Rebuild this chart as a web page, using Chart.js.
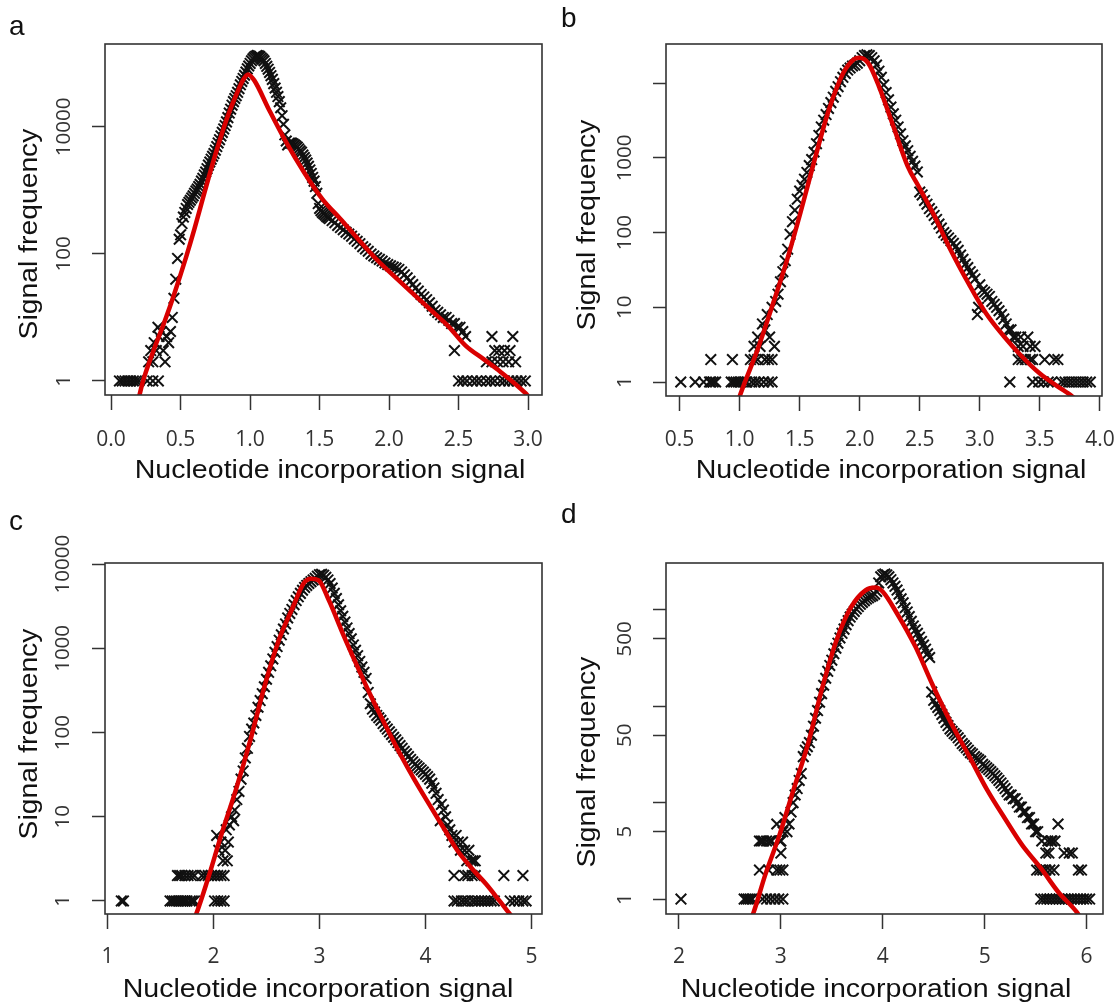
<!DOCTYPE html>
<html>
<head>
<meta charset="utf-8">
<script src="https://cdn.jsdelivr.net/npm/chart.js@4.4.1/dist/chart.umd.min.js"></script>
<style>
  html, body { margin: 0; padding: 0; background: #fff; }
  #wrap { position: relative; width: 1118px; height: 1006px; overflow: hidden; }
  canvas { position: absolute; }
</style>
</head>
<body>
<div id="wrap">
  <canvas id="panelA" width="558" height="500" style="left:0;top:0"></canvas>
  <canvas id="panelB" width="560" height="500" style="left:558px;top:0"></canvas>
  <canvas id="panelC" width="558" height="506" style="left:0;top:500px"></canvas>
  <canvas id="panelD" width="560" height="506" style="left:558px;top:500px"></canvas>
</div>
<script>
const X_TITLE = 'Nucleotide incorporation signal';
const Y_TITLE = 'Signal frequency';

// ---- panel a : [signal, frequency] ----
const aSignal = [
  [0.06,1],[0.08,1],[0.10,1],[0.12,1],[0.14,1],[0.16,1],[0.18,1],[0.20,1],[0.26,1],[0.30,1],[0.34,1],
  [0.27,2],[0.285,3],[0.30,2],[0.31,4],[0.325,3],[0.337,7],[0.345,5],[0.362,6],[0.375,3],[0.388,2],
  [0.40,5],[0.414,4],[0.427,6],[0.44,10],[0.452,20],[0.465,40],[0.478,85],[0.49,170],
  [0.50,200],[0.51,300],[0.52,380],[0.53,450],[0.54,520],[0.55,600],[0.56,650],[0.57,700],[0.58,760],
  [0.59,820],[0.60,900],[0.61,980],[0.62,1050],[0.63,1150],[0.64,1250],[0.65,1400],[0.66,1550],
  [0.67,1750],[0.68,1950],[0.69,2200],[0.70,2500],[0.71,2800],[0.72,3100],[0.73,3450],[0.74,3800],
  [0.75,4300],[0.76,4900],[0.77,5600],[0.78,6300],[0.79,7200],[0.80,8200],[0.81,9300],[0.82,10500],
  [0.83,12000],[0.84,14000],[0.85,16500],[0.86,19000],[0.87,22000],[0.88,25000],[0.89,28000],
  [0.90,31000],[0.91,35000],[0.92,40000],[0.93,46000],[0.94,52000],[0.95,58000],[0.96,65000],
  [0.97,73000],[0.98,82000],[0.99,91000],[1.00,100000],[1.01,110000],[1.02,118000],[1.03,125000],
  [1.04,130000],[1.05,133000],[1.06,132000],[1.07,128000],[1.08,122000],[1.09,116000],[1.10,110000],
  [1.11,100000],[1.12,90000],[1.13,81000],[1.14,72000],[1.15,64000],[1.16,56000],[1.17,48000],
  [1.18,41000],[1.19,35000],[1.20,30000],[1.21,25000],[1.22,20000],[1.23,15000],[1.24,11000],
  [1.25,7500],[1.26,6000],[1.27,5200],[1.28,5500],[1.29,5600],[1.30,5500],[1.31,5400],[1.32,5200],
  [1.33,5000],[1.34,4800],[1.35,4500],[1.36,4200],[1.37,4000],[1.38,3600],[1.39,3300],[1.40,3000],
  [1.41,2700],[1.42,2400],[1.43,2100],[1.44,1850],[1.45,1600],[1.46,1400],[1.47,1150],[1.48,900],
  [1.49,620],[1.50,520],[1.51,480],[1.52,450],[1.53,430],[1.54,410],[1.55,390],[1.56,375],[1.57,360],
  [1.59,335],[1.61,310],[1.63,280],[1.65,260],[1.67,240],[1.69,220],[1.71,205],[1.73,190],[1.75,172],
  [1.77,158],[1.79,145],[1.81,130],[1.83,120],[1.85,110],[1.87,100],[1.89,93],[1.91,87],[1.93,82],
  [1.95,77],[1.97,72],[1.99,68],[2.01,65],[2.03,62],[2.05,60],[2.07,57],[2.09,52],[2.11,47],[2.13,42],
  [2.15,37],[2.17,33],[2.19,29],[2.21,26],[2.23,23],[2.25,21],[2.27,19],[2.29,17],[2.31,15],[2.33,13],
  [2.35,12],[2.37,11],[2.39,10],[2.41,10],[2.43,9],[2.45,8],[2.47,8],[2.49,7],[2.51,7],[2.53,6],[2.55,5],
  [2.47,3],[2.50,1],[2.53,1],[2.56,1],[2.60,1],[2.63,1],[2.66,1],[2.70,1],[2.73,1],[2.76,1],[2.80,1],
  [2.83,1],[2.86,1],[2.89,1],[2.92,1],[2.95,1],[2.98,1],
  [2.70,2],[2.74,2],[2.78,2],[2.82,2],[2.86,2],[2.91,2],[2.76,3],[2.79,3],[2.83,3],[2.87,3],
  [2.74,5],[2.89,5]
];
const aFit = [
  [0.19,0.45],[0.20,0.55],[0.23,1],[0.30,2.8],[0.388,9],[0.45,22],[0.54,90],[0.60,250],[0.66,750],
  [0.72,2200],[0.78,6000],[0.84,15000],[0.90,32000],[0.95,55000],[0.985,67000],[1.03,54000],
  [1.134,19000],[1.26,5700],[1.39,1900],[1.52,730],[1.65,355],[1.776,172],[1.905,84],[2.03,46],
  [2.16,25],[2.29,13.7],[2.42,7.5],[2.55,3.6],[2.68,2.2],[2.80,1.4],[2.985,0.63],[3.0,0.58]
];
const aXTicks = [0, 0.5, 1, 1.5, 2, 2.5, 3];
const aXLabels = ['0.0', '0.5', '1.0', '1.5', '2.0', '2.5', '3.0'];
const aYTicks = [1, 100, 10000];
const aYLabels = ['1', '100', '10000'];

// ---- panel b ----
const bSignal = [
  [0.51,1],[0.63,1],[0.70,1],[0.75,1],[0.76,1],[0.78,1],[0.80,1],[0.93,1],[0.95,1],[0.97,1],[0.99,1],
  [1.01,1],[1.04,1],[1.06,1],[1.10,1],[1.13,1],[1.16,1],[1.20,1],[1.24,1],[1.27,1],
  [0.76,2],[0.94,2],[1.09,2],[1.12,2],[1.15,2],[1.21,2],[1.24,2],[1.27,2],
  [1.12,3],[1.15,4],[1.17,3],[1.19,6],[1.21,5],[1.23,8],[1.25,4],[1.27,10],[1.29,3],[1.30,12],
  [1.32,15],[1.34,22],[1.36,30],[1.38,42],[1.40,60],[1.42,95],[1.44,140],[1.46,200],[1.48,280],
  [1.50,360],[1.52,430],[1.54,520],[1.56,640],[1.58,790],[1.60,950],[1.62,1200],[1.64,1550],
  [1.66,2000],[1.68,2600],[1.70,3200],[1.72,3800],[1.74,4600],[1.76,5500],[1.78,6500],[1.80,7800],
  [1.82,9000],[1.84,10500],[1.86,12000],[1.88,13500],[1.90,15000],[1.92,16000],[1.94,17000],
  [1.96,17500],[1.98,18500],[2.00,20000],[2.02,22000],[2.04,23500],[2.06,24000],[2.08,23500],
  [2.10,22000],[2.12,20000],[2.14,17500],[2.16,14500],[2.18,12000],[2.20,9500],[2.22,7500],
  [2.24,6000],[2.26,4800],[2.28,3900],[2.30,3200],[2.32,2600],[2.34,2100],[2.36,1700],[2.38,1450],
  [2.40,1250],[2.42,1050],[2.44,900],[2.46,780],[2.48,650],[2.50,350],[2.52,320],[2.54,270],
  [2.56,240],[2.58,210],[2.60,190],[2.62,170],[2.64,150],[2.66,130],[2.68,115],[2.70,100],[2.72,92],
  [2.74,85],[2.76,78],[2.78,72],[2.80,65],[2.82,58],[2.84,50],[2.86,44],[2.88,38],[2.90,34],[2.92,30],
  [2.94,27],[2.96,24],[2.98,8],[2.99,10],[3.00,20],[3.02,17],[3.04,16],[3.06,15],[3.08,14],[3.10,12],
  [3.12,11],[3.14,10],[3.16,9],[3.18,8],[3.20,7],[3.22,6],[3.24,5],[3.26,5],[3.28,4],[3.30,4],[3.32,3],
  [3.34,4],[3.36,3],[3.40,4],[3.42,3],[3.46,3],
  [3.32,2],[3.35,2],[3.38,2],[3.42,2],[3.44,2],[3.54,2],[3.62,2],[3.65,2],
  [3.25,1],[3.44,1],[3.49,1],[3.53,1],[3.57,1],[3.60,1],[3.68,1],[3.71,1],[3.74,1],[3.77,1],[3.80,1],
  [3.83,1],[3.86,1],[3.89,1],[3.92,1]
];
const bFit = [
  [0.98,0.5],[1.0,0.64],[1.149,2.7],[1.268,10],[1.387,39],[1.506,183],[1.625,950],[1.744,4450],
  [1.863,13700],[1.952,21000],[1.997,22000],[2.07,18700],[2.16,9100],[2.28,2650],[2.40,770],
  [2.49,417],[2.61,183],[2.756,59],[2.905,21],[3.05,8.4],[3.20,4.1],[3.35,2.2],[3.5,1.3],
  [3.65,0.87],[3.77,0.64],[3.80,0.58]
];
const bXTicks = [0.5, 1, 1.5, 2, 2.5, 3, 3.5, 4];
const bXLabels = ['0.5', '1.0', '1.5', '2.0', '2.5', '3.0', '3.5', '4.0'];
const bYTicks = [1, 10, 100, 1000, 10000];
const bYLabels = ['1', '10', '100', '1000', ''];

// ---- panel c ----
const cSignal = [
  [1.13,1],[1.15,1],[1.59,1],[1.61,1],[1.63,1],[1.65,1],[1.67,1],[1.69,1],[1.71,1],[1.73,1],[1.75,1],
  [1.78,1],[1.80,1],[1.82,1],[2.01,1],[2.04,1],[2.07,1],[2.10,1],
  [1.66,2],[1.68,2],[1.70,2],[1.73,2],[1.76,2],[1.79,2],[1.82,2],[1.89,2],[1.92,2],[1.95,2],[1.98,2],
  [2.01,2],[2.04,2],[2.07,2],[2.10,2],
  [2.03,6],[2.05,4],[2.07,5],[2.09,3],[2.11,4],[2.12,7],[2.13,3],[2.14,5],[2.15,8],[2.17,10],[2.19,9],
  [2.20,12],[2.22,16],[2.24,20],[2.26,28],[2.28,35],[2.30,50],[2.32,65],[2.34,90],[2.36,110],
  [2.38,130],[2.40,160],[2.42,200],[2.44,240],[2.46,290],[2.48,350],[2.50,430],[2.52,520],[2.54,620],
  [2.56,750],[2.58,900],[2.60,1050],[2.62,1250],[2.64,1450],[2.66,1700],[2.68,1950],[2.70,2300],
  [2.72,2600],[2.74,2900],[2.76,3300],[2.78,3700],[2.80,4100],[2.82,4500],[2.84,4900],[2.86,5300],
  [2.88,5600],[2.90,5900],[2.92,6200],[2.94,6500],[2.96,6800],[2.98,7200],[3.00,7500],[3.02,7600],
  [3.04,7400],[3.06,7000],[3.08,6500],[3.10,5900],[3.12,5200],[3.14,4500],[3.16,3900],[3.18,3300],
  [3.20,2800],[3.22,2400],[3.24,2050],[3.26,1750],[3.28,1500],[3.30,1300],[3.32,1100],[3.34,950],
  [3.36,820],[3.38,700],[3.40,600],[3.42,520],[3.44,440],[3.46,300],[3.48,220],[3.50,190],[3.52,175],
  [3.54,160],[3.56,150],[3.58,140],[3.60,128],[3.62,118],[3.64,110],[3.66,102],[3.68,95],[3.70,88],
  [3.72,82],[3.74,76],[3.76,70],[3.78,65],[3.80,60],[3.82,56],[3.84,52],[3.86,48],[3.88,45],[3.90,42],
  [3.92,40],[3.94,38],[3.96,36],[3.98,34],[4.00,32],[4.02,30],[4.04,28],[4.06,25],[4.08,22],[4.10,19],
  [4.12,16],[4.14,9],[4.15,14],[4.17,12],[4.19,10],[4.21,8],[4.23,7],[4.25,6],[4.27,5],[4.29,6],
  [4.31,5],[4.33,4],[4.35,5],[4.37,4],[4.39,3],[4.41,4],[4.43,3],[4.45,3],[4.47,3],
  [4.27,2],[4.37,2],[4.40,2],[4.44,2],[4.47,2],[4.74,2],[4.92,2],
  [4.27,1],[4.30,1],[4.34,1],[4.37,1],[4.40,1],[4.44,1],[4.47,1],[4.50,1],[4.53,1],[4.56,1],[4.59,1],
  [4.62,1],[4.65,1],[4.80,1],[4.84,1],[4.88,1],[4.92,1],[4.95,1]
];
const cFit = [
  [1.80,0.55],[1.835,0.69],[1.943,1.76],[2.077,6.3],[2.21,20.7],[2.347,81],[2.48,350],[2.616,1250],
  [2.75,3100],[2.85,5900],[2.92,6700],[2.99,6460],[3.09,3700],[3.22,1500],[3.36,600],[3.49,265],
  [3.63,117],[3.76,56],[3.90,27],[4.03,14.4],[4.165,7.6],[4.30,4],[4.43,2.5],[4.57,1.6],[4.70,1],
  [4.80,0.69],[4.84,0.6]
];
const cXTicks = [1, 2, 3, 4, 5];
const cXLabels = ['1', '2', '3', '4', '5'];
const cYTicks = [1, 10, 100, 1000, 10000];
const cYLabels = ['1', '10', '100', '1000', '10000'];

// ---- panel d ----
const dSignal = [
  [2.02,1],[2.64,1],[2.66,1],[2.68,1],[2.70,1],[2.72,1],[2.82,1],[2.86,1],[2.90,1],[2.94,1],[2.98,1],[3.02,1],
  [2.79,2],[2.88,2],[2.96,2],[2.99,2],[3.02,2],[3.00,3],
  [2.79,4],[2.81,4],[2.83,4],[2.86,4],[2.89,4],[2.91,4],[2.99,4],
  [2.96,6],[3.00,4],[3.02,5],[3.04,7],[3.06,5],[3.08,6],[3.10,8],[3.12,10],[3.14,12],[3.16,14],
  [3.18,17],[3.20,20],[3.22,30],[3.24,35],[3.26,38],[3.28,42],[3.30,50],[3.32,62],[3.34,75],[3.36,90],
  [3.38,110],[3.40,135],[3.42,165],[3.44,195],[3.46,230],[3.48,265],[3.50,300],[3.52,350],[3.54,400],
  [3.56,450],[3.58,510],[3.60,570],[3.62,630],[3.64,700],[3.66,770],[3.68,840],[3.70,900],[3.72,960],
  [3.74,1020],[3.76,1080],[3.78,1140],[3.80,1190],[3.82,1240],[3.84,1290],[3.86,1330],[3.88,1370],
  [3.90,1400],[3.92,1450],[3.94,1550],[3.96,1900],[3.98,2200],[4.00,2300],[4.02,2350],[4.04,2300],
  [4.06,2200],[4.08,2050],[4.10,1900],[4.12,1750],[4.14,1600],[4.16,1450],[4.18,1300],[4.20,1180],
  [4.22,1050],[4.24,950],[4.26,850],[4.28,760],[4.30,680],[4.32,620],[4.34,570],[4.36,520],[4.38,470],
  [4.40,430],[4.42,390],[4.44,350],[4.46,320],[4.48,140],[4.50,115],[4.52,105],[4.54,97],[4.56,90],
  [4.58,82],[4.60,75],[4.62,68],[4.64,63],[4.66,58],[4.68,55],[4.70,52],[4.72,50],[4.74,47],[4.76,44],
  [4.78,41],[4.80,39],[4.82,37],[4.84,35],[4.86,33],[4.88,32],[4.90,30],[4.92,29],[4.94,28],[4.96,27],
  [4.98,25],[5.00,24],[5.02,23],[5.04,22],[5.06,21],[5.08,20],[5.10,19],[5.12,18],[5.14,17],[5.16,16],
  [5.18,15],[5.20,14],[5.22,13],[5.24,12],[5.26,12],[5.28,11],[5.30,11],[5.32,10],[5.34,9],[5.36,9],
  [5.38,8],[5.40,8],[5.42,7],[5.44,7],[5.46,6],[5.48,6],[5.50,5],[5.52,5],[5.56,4],[5.60,3],[5.65,4],
  [5.72,6],[5.78,3],[5.62,4],[5.66,4],[5.69,4],[5.63,3],[5.83,3],[5.86,3],
  [5.51,2],[5.54,2],[5.57,2],[5.60,2],[5.64,2],[5.68,2],[5.92,2],[5.95,2],
  [5.55,1],[5.58,1],[5.61,1],[5.64,1],[5.67,1],[5.70,1],[5.73,1],[5.76,1],[5.79,1],[5.82,1],[5.85,1],
  [5.88,1],[5.91,1],[5.94,1],[5.97,1],[6.00,1],[6.03,1]
];
const dFit = [
  [2.70,0.6],[2.733,0.73],[2.846,1.77],[2.986,4.6],[3.126,13.8],[3.27,42],[3.41,161],[3.547,487],
  [3.69,1070],[3.83,1590],[3.93,1700],[4.0,1540],[4.14,915],[4.32,415],[4.495,161],[4.67,67],
  [4.85,30],[5.02,13.8],[5.2,6.8],[5.37,3.6],[5.55,2.1],[5.72,1.19],[5.9,0.74],[5.95,0.62]
];
const dXTicks = [2, 3, 4, 5, 6];
const dXLabels = ['2', '3', '4', '5', '6'];
const dYTicks = [1, 5, 10, 50, 100, 500, 1000];
const dYLabels = ['1', '5', '', '50', '', '500', ''];

const RED = '#d90000';
const INK = '#111';
const AXIS = '#333';
const TICK_FONT = '"Open Sans", sans-serif';
const TITLE_FONT = '"Liberation Sans", Arial, sans-serif';
const X_TICK_SIZE = 21;
const Y_TICK_SIZE = 20.5;
const TICK_LEN = 13;

function widestLabel(labels, size) {
  const ctx = document.createElement('canvas').getContext('2d');
  ctx.font = size + 'px ' + TICK_FONT;
  return Math.max(...labels.map(l => ctx.measureText(l).width));
}

// box around the plot region, like R's bty="o"
const framePlugin = {
  id: 'frame',
  afterDatasetsDraw(chart) {
    const { ctx, chartArea: a } = chart;
    ctx.save();
    ctx.strokeStyle = AXIS;
    ctx.lineWidth = 1.6;
    ctx.strokeRect(a.left, a.top, a.right - a.left, a.bottom - a.top);
    ctx.restore();
  }
};

// panel letter and the two axis titles
const panelTextPlugin = {
  id: 'panelText',
  afterDraw(chart, args, opts) {
    const ctx = chart.ctx;
    ctx.save();
    ctx.fillStyle = INK;
    ctx.textBaseline = 'alphabetic';

    ctx.font = '28px ' + TITLE_FONT;
    ctx.textAlign = 'left';
    ctx.fillText(opts.letter, opts.letterX, opts.letterY);

    ctx.font = '25.5px ' + TITLE_FONT;
    ctx.textAlign = 'center';

    ctx.save();
    ctx.translate(opts.xTitleX, opts.xTitleY);
    ctx.scale(1.12, 1);
    ctx.fillText(X_TITLE, 0, 0);
    ctx.restore();

    ctx.save();
    ctx.translate(opts.yTitleX, opts.yTitleY);
    ctx.rotate(-Math.PI / 2);
    ctx.scale(1.11, 1);
    ctx.fillText(Y_TITLE, 0, 0);
    ctx.restore();

    ctx.restore();
  }
};

function makePanel(p) {
  const canvas = document.getElementById(p.id);
  const W = canvas.width, H = canvas.height;
  const yPad = (p.box.left - p.yLabelX) - TICK_LEN - widestLabel(p.yLabels, Y_TICK_SIZE) / 2;

  new Chart(canvas, {
    type: 'scatter',
    data: {
      datasets: [
        {
          type: 'line',
          data: p.fit.map(d => ({ x: d[0], y: d[1] })),
          showLine: true,
          borderColor: RED,
          borderWidth: 4.5,
          pointRadius: 0,
          cubicInterpolationMode: 'monotone',
          clip: 0
        },
        {
          data: p.signal.map(d => ({ x: d[0], y: d[1] })),
          pointStyle: 'crossRot',
          pointRadius: 7.5,
          borderColor: INK,
          backgroundColor: 'rgba(0,0,0,0)',
          borderWidth: 2
        }
      ]
    },
    options: {
      responsive: false,
      animation: false,
      events: [],
      layout: { padding: { left: 0, top: p.box.top, right: W - p.box.right, bottom: 0 } },
      plugins: {
        legend: { display: false },
        tooltip: { enabled: false },
        panelText: p.text
      },
      scales: {
        x: {
          type: 'linear',
          min: p.xMin,
          max: p.xMax,
          afterBuildTicks: s => { s.ticks = p.xTicks.map(v => ({ value: v })); },
          afterFit: s => { s.height = H - p.box.bottom; s.paddingLeft = 0; s.paddingRight = 0; },
          border: { display: false },
          grid: { drawOnChartArea: false, tickLength: 15, tickColor: AXIS, tickWidth: 1.5 },
          ticks: {
            autoSkip: false,
            maxRotation: 0,
            padding: p.xTickPad,
            color: '#333',
            font: { family: TICK_FONT, size: X_TICK_SIZE },
            callback: (v, i) => p.xLabels[i]
          }
        },
        y: {
          type: 'logarithmic',
          min: p.yMin,
          max: p.yMax,
          afterBuildTicks: s => { s.ticks = p.yTicks.map(v => ({ value: v })); },
          afterFit: s => { s.width = p.box.left; s.paddingTop = 0; s.paddingBottom = 0; },
          border: { display: false },
          grid: { drawOnChartArea: false, tickLength: TICK_LEN, tickColor: AXIS, tickWidth: 1.5 },
          ticks: {
            autoSkip: false,
            minRotation: 90,
            maxRotation: 90,
            crossAlign: 'center',
            padding: yPad,
            color: '#333',
            font: { family: TICK_FONT, size: Y_TICK_SIZE },
            callback: (v, i) => p.yLabels[i]
          }
        }
      }
    },
    plugins: [framePlugin, panelTextPlugin]
  });
}

makePanel({
  id: 'panelA', signal: aSignal, fit: aFit,
  xTicks: aXTicks, xLabels: aXLabels, yTicks: aYTicks, yLabels: aYLabels,
  xMin: -0.044, xMax: 3.10, yMin: 0.625, yMax: 202000,
  box: { left: 105, top: 44, right: 542, bottom: 395 },
  yLabelX: 64, xTickPad: 17,
  text: { letter: 'a', letterX: 9, letterY: 35, xTitleX: 330, xTitleY: 478, yTitleX: 37, yTitleY: 234 }
});

makePanel({
  id: 'panelB', signal: bSignal, fit: bFit,
  xTicks: bXTicks, xLabels: bXLabels, yTicks: bYTicks, yLabels: bYLabels,
  xMin: 0.387, xMax: 4.0175, yMin: 0.65, yMax: 33500,
  box: { left: 108, top: 44, right: 544, bottom: 396 },
  yLabelX: 67, xTickPad: 16,
  text: { letter: 'b', letterX: 3, letterY: 27, xTitleX: 333, xTitleY: 478, yTitleX: 37, yTitleY: 225 }
});

makePanel({
  id: 'panelC', signal: cSignal, fit: cFit,
  xTicks: cXTicks, xLabels: cXLabels, yTicks: cYTicks, yLabels: cYLabels,
  xMin: 0.976, xMax: 5.10, yMin: 0.70, yMax: 10330,
  box: { left: 105, top: 63, right: 542, bottom: 414 },
  yLabelX: 63, xTickPad: 15,
  text: { letter: 'c', letterX: 9, letterY: 30, xTitleX: 318, xTitleY: 497, yTitleX: 37, yTitleY: 234 }
});

makePanel({
  id: 'panelD', signal: dSignal, fit: dFit,
  xTicks: dXTicks, xLabels: dXLabels, yTicks: dYTicks, yLabels: dYLabels,
  xMin: 1.873, xMax: 6.161, yMin: 0.734, yMax: 3055,
  box: { left: 108, top: 63, right: 545, bottom: 414 },
  yLabelX: 67, xTickPad: 15,
  text: { letter: 'd', letterX: 3, letterY: 23, xTitleX: 318, xTitleY: 497, yTitleX: 37, yTitleY: 262 }
});
</script>
</body>
</html>
